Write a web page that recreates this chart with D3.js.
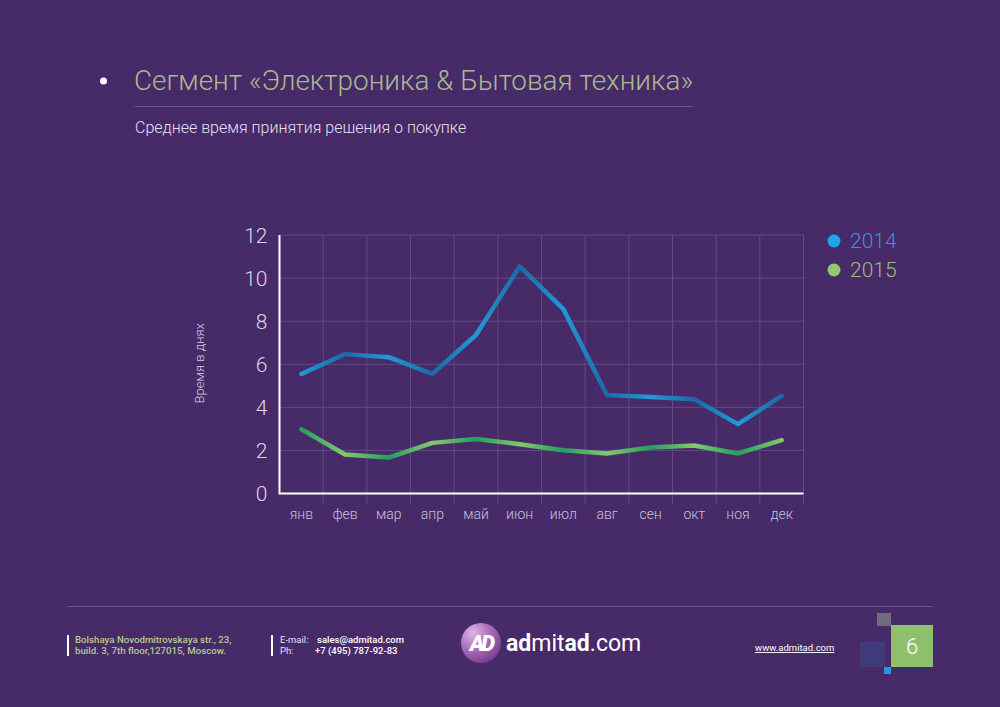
<!DOCTYPE html>
<html>
<head>
<meta charset="utf-8">
<script src="https://cdn.jsdelivr.net/npm/d3@7"></script>
<style>
  html, body { margin: 0; padding: 0; background: #472a68; }
  svg { display: block; font-family: Roboto, "Noto Sans", sans-serif; }
</style>
</head>
<body>
<div id="chart"></div>
<script>
const w = 1000;
const h = 707;

// data
const months = ['янв', 'фев', 'мар', 'апр', 'май', 'июн', 'июл', 'авг', 'сен', 'окт', 'ноя', 'дек'];
const days2014 = [5.55, 6.47, 6.33, 5.55, 7.36, 10.54, 8.56, 4.57, 4.48, 4.37, 3.22, 4.53];
const days2015 = [2.98, 1.81, 1.67, 2.35, 2.53, 2.29, 2.01, 1.86, 2.14, 2.23, 1.86, 2.48];
const yTicks = [0, 2, 4, 6, 8, 10, 12];
const seriesNames = ['2014', '2015'];

const plot = {left: 279.5, right: 803.5, top: 235, bottom: 493.5};

const svg = d3.select('#chart')
.append('svg')
.attr('width', w)
.attr('height', h);

svg.append('rect').attr('width', w).attr('height', h).attr('fill', '#472a68');

const defs = svg.append('defs');

//Header
svg.append('circle').attr('cx', 103.5).attr('cy', 81).attr('r', 3.5).attr('fill', '#ffffff');
svg.append('text')
.attr('x', 134).attr('y', 90)
.attr('font-size', 27.9).attr('font-weight', 300)
.attr('fill', '#a9b98f')
.text('Сегмент «Электроника & Бытовая техника»');
svg.append('line')
.attr('x1', 135).attr('x2', 693).attr('y1', 106.5).attr('y2', 106.5)
.attr('stroke', '#6f5a96').attr('stroke-width', 1.2);
svg.append('text')
.attr('x', 135).attr('y', 133)
.attr('font-size', 16).attr('font-weight', 300)
.attr('fill', '#e6e0ee')
.text('Среднее время принятия решения о покупке');

//Scales
const x = d3.scaleBand().domain(months).range([plot.left, plot.right]);
const y = d3.scaleLinear().domain([0, 12]).range([plot.bottom, plot.top]);
const xc = m => x(m) + x.bandwidth() / 2;

//Grid
const grid = svg.append('g');
grid.selectAll('.hgrid')
.data(yTicks.filter(d => d > 0))
.enter().append('line')
.attr('x1', plot.left).attr('x2', plot.right)
.attr('y1', d => y(d)).attr('y2', d => y(d))
.attr('stroke', '#614a86').attr('stroke-width', 1);
grid.selectAll('.vgrid')
.data(months)
.enter().append('line')
.attr('x1', d => x(d) + x.bandwidth()).attr('x2', d => x(d) + x.bandwidth())
.attr('y1', plot.top).attr('y2', plot.bottom + 11)
.attr('stroke', '#614a86').attr('stroke-width', 1);

//Axes
const yAxis = svg.append('g')
.attr('transform', `translate(${plot.left - 12},0)`)
.call(d3.axisLeft(y).tickValues(yTicks).tickSize(0).tickPadding(0));
yAxis.select('.domain').remove();
yAxis.selectAll('text')
.attr('font-family', 'Roboto, sans-serif')
.attr('font-size', 21).attr('font-weight', 300)
.attr('fill', '#ddd5e8')
.attr('dy', '0.35em');

const xAxis = svg.append('g')
.attr('transform', `translate(0,${plot.bottom + 16})`)
.call(d3.axisBottom(x).tickSize(0).tickPadding(0));
xAxis.select('.domain').remove();
xAxis.selectAll('text')
.attr('font-family', 'Roboto, sans-serif')
.attr('font-size', 14).attr('font-weight', 300)
.attr('fill', '#c9c0d8')
.attr('dy', '0.71em');

svg.append('path')
.attr('d', `M${plot.left},${plot.top}V${plot.bottom}H${plot.right}`)
.attr('fill', 'none').attr('stroke', '#ffffff').attr('stroke-width', 2);

svg.append('text')
.attr('transform', `translate(204,${(plot.top + plot.bottom) / 2 - 1}) rotate(-90)`)
.attr('text-anchor', 'middle')
.attr('font-size', 13).attr('font-weight', 300)
.attr('fill', '#d6cde3')
.text('Время в днях');

//Lines with alternating shading along each segment
const series = [
  {name: seriesNames[0], values: days2014, light: '#2399d8', dark: '#1b6aa6', dot: '#1ea4ea', label: '#3a93d4'},
  {name: seriesNames[1], values: days2015, light: '#86c76c', dark: '#24a060', dot: '#92c96a', label: '#9cbd80'}
];

series.forEach((s, si) => {
  const gid = 'grad' + si;
  const g = defs.append('linearGradient')
  .attr('id', gid)
  .attr('gradientUnits', 'userSpaceOnUse')
  .attr('x1', xc(months[0])).attr('x2', xc(months[months.length - 1]))
  .attr('y1', 0).attr('y2', 0);
  const span = xc(months[months.length - 1]) - xc(months[0]);
  months.forEach((m, i) => {
    g.append('stop')
    .attr('offset', (xc(m) - xc(months[0])) / span)
    .attr('stop-color', (i + si) % 2 === 0 ? s.light : s.dark);
  });

  const line = d3.line()
  .x((d, i) => xc(months[i]))
  .y(d => y(d));

  svg.append('path')
  .datum(s.values)
  .attr('d', line)
  .attr('fill', 'none')
  .attr('stroke', `url(#${gid})`)
  .attr('stroke-width', 4.5)
  .attr('stroke-linecap', 'round')
  .attr('stroke-linejoin', 'round');

  //Legend
  svg.append('circle')
  .attr('cx', 834).attr('cy', 241 + si * 29).attr('r', 6.5)
  .attr('fill', s.dot);
  svg.append('text')
  .attr('x', 850).attr('y', 241 + si * 29)
  .attr('dy', '0.35em')
  .attr('font-size', 21).attr('font-weight', 300)
  .attr('fill', s.label)
  .text(s.name);
});

//Footer
svg.append('line')
.attr('x1', 67).attr('x2', 933).attr('y1', 606.5).attr('y2', 606.5)
.attr('stroke', '#654e8c').attr('stroke-width', 1);

svg.append('rect').attr('x', 67).attr('y', 635).attr('width', 2).attr('height', 21).attr('fill', '#ffffff');
svg.append('rect').attr('x', 271).attr('y', 635).attr('width', 2).attr('height', 21).attr('fill', '#ffffff');

const addr = svg.append('text')
.attr('font-size', 9.7).attr('font-weight', 500).attr('fill', '#b6cc8e');
addr.append('tspan').attr('x', 75).attr('y', 643).text('Bolshaya Novodmitrovskaya str., 23,');
addr.append('tspan').attr('x', 75).attr('y', 654).text('build. 3, 7th floor,127015, Moscow.');

const contact = svg.append('g').attr('font-size', 9.5).attr('fill', '#ffffff');
contact.append('text').attr('x', 280).attr('y', 643).attr('fill', '#e8e2f0').text('E-mail:');
contact.append('text').attr('x', 317).attr('y', 643).attr('font-weight', 500).text('sales@admitad.com');
contact.append('text').attr('x', 280).attr('y', 654).attr('fill', '#e8e2f0').text('Ph:');
contact.append('text').attr('x', 315).attr('y', 654).attr('font-weight', 500).text('+7 (495) 787-92-83');

//Logo
const lg = defs.append('radialGradient').attr('id', 'logoGrad')
.attr('cx', '30%').attr('cy', '25%').attr('r', '80%');
lg.append('stop').attr('offset', 0).attr('stop-color', '#e2b4e6');
lg.append('stop').attr('offset', 0.55).attr('stop-color', '#a66bb8');
lg.append('stop').attr('offset', 1).attr('stop-color', '#7a3f93');
svg.append('circle').attr('cx', 481).attr('cy', 643).attr('r', 20).attr('fill', 'url(#logoGrad)');
svg.append('text')
.attr('x', 481).attr('y', 651).attr('text-anchor', 'middle')
.attr('font-size', 22).attr('font-weight', 900).attr('font-style', 'italic')
.attr('letter-spacing', -3)
.attr('fill', '#ffffff')
.text('AD');

const brand = svg.append('text')
.attr('x', 506).attr('y', 651)
.attr('font-size', 23).attr('fill', '#ffffff');
brand.append('tspan').attr('font-weight', 700).text('ad');
brand.append('tspan').attr('font-weight', 400).text('mit');
brand.append('tspan').attr('font-weight', 700).text('ad');
brand.append('tspan').attr('font-weight', 400).text('.com');

svg.append('text')
.attr('x', 755).attr('y', 651)
.attr('font-size', 9.5).attr('fill', '#ffffff')
.attr('text-decoration', 'underline')
.text('www.admitad.com');

//Page marker
svg.append('rect').attr('x', 877).attr('y', 613).attr('width', 14).attr('height', 13).attr('fill', '#6f6a7c');
svg.append('rect').attr('x', 860).attr('y', 642).attr('width', 25).attr('height', 25).attr('fill', '#3f3a7a');
svg.append('rect').attr('x', 884).attr('y', 667).attr('width', 7).attr('height', 7).attr('fill', '#1b9fdc');
svg.append('rect').attr('x', 891).attr('y', 625).attr('width', 42).attr('height', 42).attr('fill', '#8fc06b');
svg.append('text')
.attr('x', 912).attr('y', 646).attr('dy', '0.35em')
.attr('text-anchor', 'middle')
.attr('font-size', 22).attr('font-weight', 300)
.attr('fill', '#ffffff')
.text('6');
</script>
</body>
</html>
